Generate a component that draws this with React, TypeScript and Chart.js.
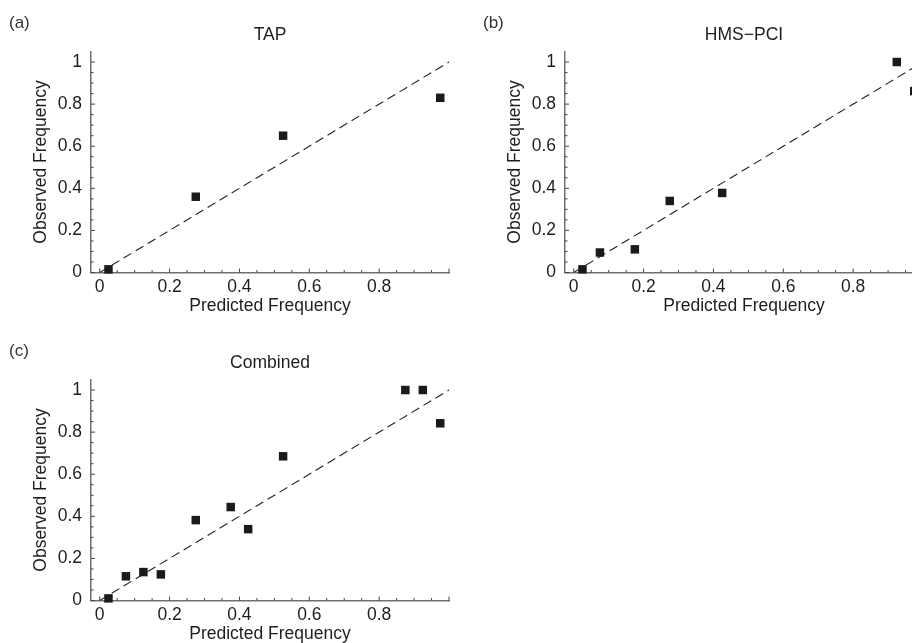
import React, { useEffect, useRef } from "react";
import { Chart, registerables } from "chart.js";

Chart.register(...registerables);

const tapPredicted = [0.025, 0.275, 0.525, 0.975];
const tapObserved = [0.015, 0.36, 0.65, 0.83];

const hmsPredicted = [0.025, 0.075, 0.175, 0.275, 0.425, 0.925, 0.975];
const hmsObserved = [0.015, 0.095, 0.11, 0.34, 0.378, 1.0, 0.862];

const combinedPredicted = [0.025, 0.075, 0.125, 0.175, 0.275, 0.375, 0.425, 0.525, 0.875, 0.925, 0.975];
const combinedObserved = [0.01, 0.115, 0.135, 0.124, 0.382, 0.444, 0.339, 0.685, 1.0, 1.0, 0.842];

const diagonalX = [0, 1];
const diagonalY = [0, 1];

const xLabelTicks = [0, 0.2, 0.4, 0.6, 0.8];
const yLabelTicks = [0, 0.2, 0.4, 0.6, 0.8, 1];
const majorTicks = [0, 0.2, 0.4, 0.6, 0.8, 1];
const minorTicks = [0.05, 0.1, 0.15, 0.25, 0.3, 0.35, 0.45, 0.5, 0.55, 0.65, 0.7, 0.75, 0.85, 0.9, 0.95];

const FONT = "'Liberation Sans', Arial, Helvetica, sans-serif";
const TEXT = "#1e1e1e";

const tickPlugin = {
  id: "innerTicks",
  afterDraw(chart: any) {
    const ctx = chart.ctx;
    const area = chart.chartArea;
    const xs = chart.scales.x;
    const ys = chart.scales.y;
    ctx.save();
    ctx.strokeStyle = "#444";
    ctx.lineWidth = 1;
    const drawX = (v: number, len: number) => {
      const p = xs.getPixelForValue(v);
      if (p < area.left || p > area.right) return;
      ctx.beginPath();
      ctx.moveTo(p, area.bottom);
      ctx.lineTo(p, area.bottom - len);
      ctx.stroke();
    };
    const drawY = (v: number, len: number) => {
      const p = ys.getPixelForValue(v);
      if (p < area.top || p > area.bottom) return;
      ctx.beginPath();
      ctx.moveTo(area.left, p);
      ctx.lineTo(area.left + len, p);
      ctx.stroke();
    };
    majorTicks.forEach((v) => { drawX(v, 4); drawY(v, 4); });
    minorTicks.forEach((v) => { drawX(v, 2.5); drawY(v, 2.5); });
    ctx.restore();
  },
};

function fmt(v: number) {
  return String(Number(Number(v).toFixed(2)));
}

function Panel({ title, xs, ys, left, top, label }: any) {
  const ref = useRef<HTMLCanvasElement | null>(null);
  useEffect(() => {
    if (!ref.current) return;
    const chart = new Chart(ref.current, {
      type: "scatter",
      data: {
        datasets: [
          {
            type: "scatter",
            data: xs.map((x: number, i: number) => ({ x, y: ys[i] })),
            pointStyle: "rect",
            pointRadius: 6,
            pointHoverRadius: 6,
            backgroundColor: "#1a1a1a",
            borderWidth: 0,
            clip: false,
            order: 1,
          } as any,
          {
            type: "line",
            data: diagonalX.map((x, i) => ({ x, y: diagonalY[i] })),
            borderColor: "#222",
            borderWidth: 1.1,
            borderDash: [9, 5],
            pointRadius: 0,
            fill: false,
            order: 2,
          } as any,
        ],
      },
      options: {
        animation: false,
        responsive: false,
        layout: { padding: { left: 0, right: 11, top: 0, bottom: 0 } },
        plugins: {
          legend: { display: false },
          tooltip: { enabled: false },
          title: {
            display: true,
            text: title,
            fullSize: false,
            color: TEXT,
            font: { family: FONT, size: 17.5, weight: "normal" },
            padding: { top: 24.5, bottom: 6 },
          },
        },
        scales: {
          x: {
            type: "linear",
            min: -0.025,
            max: 1.0,
            grid: { display: false, drawTicks: false },
            border: { display: true, color: "#707070", width: 1.5 },
            afterBuildTicks: (s: any) => {
              s.ticks = xLabelTicks.map((v) => ({ value: v }));
            },
            afterFit: (s: any) => {
              s.height = 47.5;
            },
            ticks: {
              padding: 4,
              color: TEXT,
              maxRotation: 0,
              autoSkip: false,
              font: { family: FONT, size: 17.5 },
              callback: (v: any) => fmt(v),
            },
            title: {
              display: true,
              text: "Predicted Frequency",
              color: TEXT,
              font: { family: FONT, size: 17.5 },
              padding: { top: 0, bottom: 3.5 },
            },
          },
          y: {
            type: "linear",
            min: 0,
            max: 1.05,
            grid: { display: false, drawTicks: false },
            border: { display: true, color: "#707070", width: 1.5 },
            afterBuildTicks: (s: any) => {
              s.ticks = yLabelTicks.map((v) => ({ value: v }));
            },
            afterFit: (s: any) => {
              s.width = 91;
            },
            ticks: {
              padding: 9,
              color: TEXT,
              autoSkip: false,
              font: { family: FONT, size: 17.5 },
              callback: (v: any) => fmt(v),
            },
            title: {
              display: true,
              text: "Observed Frequency",
              color: TEXT,
              font: { family: FONT, size: 17.5 },
              padding: { top: 30.5, bottom: 0 },
            },
          },
        },
      } as any,
      plugins: [tickPlugin],
    });
    return () => chart.destroy();
  }, []);
  return (
    <>
      <canvas
        ref={ref}
        width={460}
        height={320}
        style={{ position: "absolute", left, top, width: 460, height: 320 }}
      />
      <div
        style={{
          position: "absolute",
          left: left + 9,
          top: top + 13,
          font: `17px ${FONT}`,
          lineHeight: "20px",
          color: "#333",
        }}
      >
        {label}
      </div>
    </>
  );
}

export default function App() {
  return (
    <div
      style={{
        position: "fixed",
        left: 0,
        top: 0,
        width: 912,
        height: 643,
        overflow: "hidden",
        background: "#fff",
      }}
    >
      <Panel title="TAP" xs={tapPredicted} ys={tapObserved} left={0} top={0} label="(a)" />
      <Panel title="HMS−PCI" xs={hmsPredicted} ys={hmsObserved} left={474} top={0} label="(b)" />
      <Panel title="Combined" xs={combinedPredicted} ys={combinedObserved} left={0} top={328} label="(c)" />
    </div>
  );
}
